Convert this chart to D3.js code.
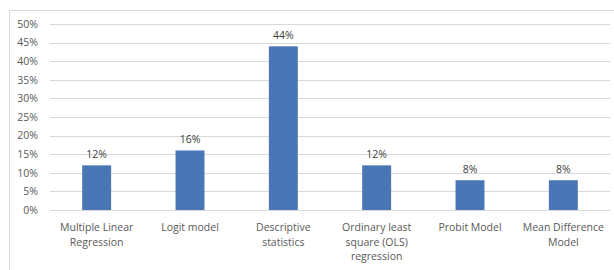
<!DOCTYPE html>
<html lang="en">
<head>
  <meta charset="UTF-8">
  <title>Methods used</title>
  <style>
    body { margin: 0; background: #fff; }
    svg { display: block; font-family: "Open Sans", sans-serif; }
  </style>
</head>
<body>
  <svg width="614" height="270"></svg>

  <script src="https://d3js.org/d3.v7.min.js"></script>
  <script>
    const categories = [
      ["Multiple Linear", "Regression"],
      ["Logit model"],
      ["Descriptive", "statistics"],
      ["Ordinary least", "square (OLS)", "regression"],
      ["Probit Model"],
      ["Mean Difference", "Model"]
    ];
    const values = [12, 16, 44, 12, 8, 8];
    const yTicks = [0, 5, 10, 15, 20, 25, 30, 35, 40, 45, 50];

    const svg = d3.select("svg");
    const plotLeft = 50, plotRight = 610, plotTop = 24, plotBottom = 210;

    // chart frame
    svg.append("rect")
      .attr("x", 9.5).attr("y", 10.5)
      .attr("width", 620).attr("height", 270)
      .attr("fill", "none").attr("stroke", "#d9d9d9");

    const x = d3.scaleBand().domain(d3.range(categories.length)).range([plotLeft, plotRight]).paddingInner(0.69).paddingOuter(0.345);
    const y = d3.scaleLinear().domain([0, 50]).range([plotBottom, plotTop]);

    // horizontal grid
    svg.append("g").selectAll("line").data(yTicks).join("line")
      .attr("x1", plotLeft).attr("x2", plotRight)
      .attr("y1", d => Math.round(y(d)) + 0.5).attr("y2", d => Math.round(y(d)) + 0.5)
      .attr("stroke", "#d9d9d9");

    // y axis labels
    const yAxis = svg.append("g").attr("transform", `translate(${plotLeft},0)`)
      .call(d3.axisLeft(y).tickValues(yTicks).tickFormat(d => d + "%").tickSize(0).tickPadding(12));
    yAxis.select(".domain").remove();
    yAxis.selectAll("text").attr("fill", "#595959").attr("font-size", "10.5px").attr("font-family", "Open Sans, sans-serif");

    // bars
    svg.append("g").selectAll("rect").data(values).join("rect")
      .attr("x", (d, i) => x(i))
      .attr("y", d => y(d))
      .attr("width", x.bandwidth())
      .attr("height", d => y(0) - y(d))
      .attr("fill", "#4a76b5");

    // value labels
    svg.append("g").selectAll("text").data(values).join("text")
      .attr("x", (d, i) => x(i) + x.bandwidth() / 2)
      .attr("y", d => y(d) - 7)
      .attr("text-anchor", "middle")
      .attr("fill", "#404040").attr("font-size", "10.5px")
      .text(d => d + "%");

    // category labels
    const cat = svg.append("g").selectAll("text").data(categories).join("text")
      .attr("x", (d, i) => x(i) + x.bandwidth() / 2)
      .attr("y", 231)
      .attr("text-anchor", "middle")
      .attr("fill", "#595959").attr("font-size", "10.5px");
    cat.selectAll("tspan").data(d => d).join("tspan")
      .attr("x", function () { return this.parentNode.getAttribute("x"); })
      .attr("dy", (d, i) => i === 0 ? 0 : 14.5)
      .text(d => d);
  </script>
</body>
</html>
